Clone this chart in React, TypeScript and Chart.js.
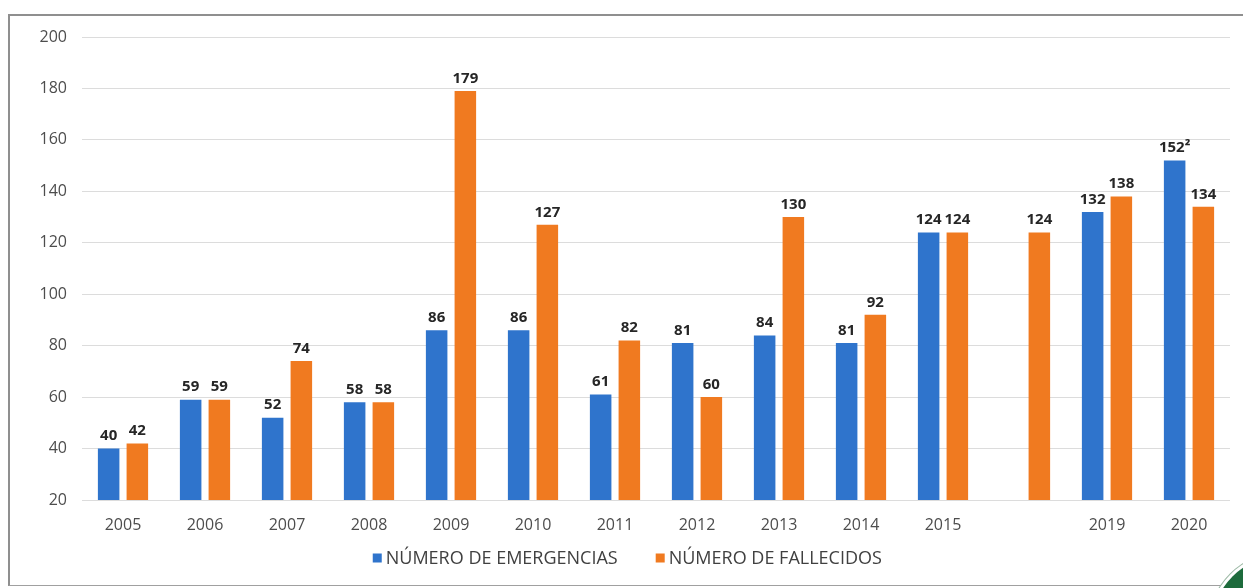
import React, { useEffect, useRef } from "react";
import { Chart, registerables } from "chart.js";

Chart.register(...registerables);

// Years shown along the axis (the blank slot carries the extra 2015 death count)
const YEARS = ["2005", "2006", "2007", "2008", "2009", "2010", "2011", "2012", "2013", "2014", "2015", "", "2019", "2020"];
const EMERGENCIAS = [40, 59, 52, 58, 86, 86, 61, 81, 84, 81, 124, null, 132, 152];
const FALLECIDOS = [42, 59, 74, 58, 179, 127, 82, 60, 130, 92, 124, 124, 138, 134];
// Footnote marks printed after a value
const EMERGENCIAS_NOTES = ["", "", "", "", "", "", "", "", "", "", "", "", "", "²"];
const FALLECIDOS_NOTES = ["", "", "", "", "", "", "", "", "", "", "", "", "", ""];
const Y_TICKS = [20, 40, 60, 80, 100, 120, 140, 160, 180, 200];

const SERIES_NAMES = ["NÚMERO DE EMERGENCIAS", "NÚMERO DE FALLECIDOS"];
const BLUE = "#2f74cc";
const ORANGE = "#f07a20";
const FONT = "'Open Sans', 'DejaVu Sans', sans-serif";

const valueLabels = {
  id: "valueLabels",
  afterDatasetsDraw(chart: any) {
    const ctx = chart.ctx;
    ctx.save();
    ctx.font = `bold 15px ${FONT}`;
    ctx.fillStyle = "#262626";
    ctx.textAlign = "center";
    ctx.textBaseline = "bottom";
    chart.data.datasets.forEach((ds: any, di: number) => {
      const meta = chart.getDatasetMeta(di);
      meta.data.forEach((el: any, i: number) => {
        const v = ds.data[i];
        if (v == null) return;
        const note = ds.notes ? ds.notes[i] : "";
        ctx.fillText(String(v) + note, el.x, el.y - 5);
      });
    });
    ctx.restore();
  },
};

const bottomKey = {
  id: "bottomKey",
  afterDraw(chart: any) {
    const ctx = chart.ctx;
    ctx.save();
    ctx.font = `18px ${FONT}`;
    ctx.textBaseline = "middle";
    const box = 9;
    const gap = 4;
    const spacing = 38;
    const items = chart.data.datasets.map((ds: any) => ({
      text: ds.label,
      color: ds.backgroundColor,
      w: box + gap + ctx.measureText(ds.label).width,
    }));
    const total = items.reduce((s: number, it: any) => s + it.w, 0) + spacing * (items.length - 1);
    const area = chart.chartArea;
    let x = area.left + (area.right - area.left) * 0.475 - total / 2;
    const y = 558;
    items.forEach((it: any) => {
      ctx.fillStyle = it.color;
      ctx.fillRect(x, y - box / 2, box, box);
      ctx.fillStyle = "#404040";
      ctx.fillText(it.text, x + box + gap, y + 1);
      x += it.w + spacing;
    });
    ctx.restore();
  },
};

export default function App() {
  const canvasRef = useRef<HTMLCanvasElement | null>(null);

  useEffect(() => {
    document.body.style.margin = "0";
    const chart = new Chart(canvasRef.current as HTMLCanvasElement, {
      type: "bar",
      data: {
        labels: YEARS,
        datasets: [
          {
            label: SERIES_NAMES[0],
            data: EMERGENCIAS,
            backgroundColor: BLUE,
            notes: EMERGENCIAS_NOTES,
          } as any,
          {
            label: SERIES_NAMES[1],
            data: FALLECIDOS,
            backgroundColor: ORANGE,
            notes: FALLECIDOS_NOTES,
          } as any,
        ],
      },
      options: {
        animation: false,
        responsive: false,
        maintainAspectRatio: false,
        layout: { padding: { left: 0, right: 13, top: 37, bottom: 53 } },
        datasets: { bar: { categoryPercentage: 0.7, barPercentage: 0.75 } },
        plugins: {
          legend: { display: false },
          tooltip: { enabled: false },
        },
        scales: {
          x: {
            grid: { display: false },
            border: { display: false },
            ticks: {
              color: "#4d4d4d",
              font: { family: FONT, size: 16 },
              padding: 8,
              maxRotation: 0,
              autoSkip: false,
            },
            afterFit: (s: any) => {
              s.height = 35;
            },
          },
          y: {
            min: 20,
            max: 200,
            afterBuildTicks: (s: any) => {
              s.ticks = Y_TICKS.map((v) => ({ value: v }));
            },
            grid: { color: "#dcdcdc", lineWidth: 1, drawTicks: false },
            border: { display: false },
            ticks: {
              color: "#4d4d4d",
              font: { family: FONT, size: 16 },
              padding: 15,
            },
            afterFit: (s: any) => {
              s.width = 82;
            },
          },
        },
      },
      plugins: [valueLabels, bottomKey],
    });
    return () => chart.destroy();
  }, []);

  return (
    <div style={{ position: "relative", width: 1243, height: 588, overflow: "hidden", background: "#fff" }}>
      <div
        style={{
          position: "absolute",
          left: 8,
          top: 14,
          width: 1243,
          height: 569,
          borderTop: "2px solid #8f8f8f",
          borderLeft: "2px solid #8f8f8f",
          borderBottom: "1px solid #a0a0a0",
        }}
      />
      <div
        style={{
          position: "absolute",
          left: 1212,
          top: 556,
          width: 140,
          height: 140,
          borderRadius: "50%",
          background: "#1d6b3c",
          boxShadow: "0 0 0 3px #fff, 0 0 0 4px #9bb8a4",
        }}
      />
      <canvas ref={canvasRef} width={1243} height={588} style={{ position: "absolute", left: 0, top: 0 }} />
    </div>
  );
}
